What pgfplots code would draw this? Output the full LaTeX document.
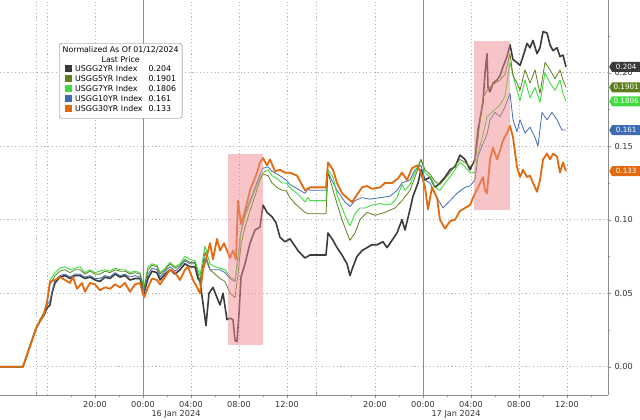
\documentclass[border=0pt]{standalone}
\usepackage{fontspec}
\setmainfont{DejaVu Sans}
\usepackage{pgfplots}
\pgfplotsset{compat=1.18}
\usetikzlibrary{shapes.symbols}

\definecolor{c2}{HTML}{3A3A3A}
\definecolor{c5}{HTML}{5E7F1E}
\definecolor{c7}{HTML}{3FDB3F}
\definecolor{c10}{HTML}{3D6DB0}
\definecolor{c30}{HTML}{E2690E}
\definecolor{pinkbox}{HTML}{F08A90}
\definecolor{gridc}{HTML}{B4B4B4}
\definecolor{axc}{HTML}{8C8C8C}

\begin{document}
\begin{tikzpicture}
\begin{axis}[
  scale only axis, width=608bp, height=395bp,
  xmin=0, xmax=608, ymin=-0.01925, ymax=0.2495,
  axis x line=bottom, axis y line=right,
  axis line style={-, draw=axc},
  clip=false,
  tick style={draw=axc},
  tick align=outside,
  major tick length=3bp, minor tick length=2bp,
  xtick={95,143,191,239,287,375,423,471,519,567},
  xticklabels={20:00,00:00,04:00,08:00,12:00,20:00,00:00,04:00,08:00,12:00},
  minor xtick={71,119,167,215,263,351,399,447,495,543,591},
  extra x ticks={36,47,316},
  extra x tick labels={},
  extra x tick style={major tick length=0pt, grid=major},
  ytick={0,0.05,0.10,0.15,0.20},
  minor ytick={0.025,0.075,0.125,0.175,0.225},
  yticklabel style={/pgf/number format/.cd, fixed, fixed zerofill, precision=2},
  /pgf/number format/assume math mode=true,
  ticklabel style={font=\fontsize{8.2}{9}\selectfont, text=black!80},
  xmajorgrids, ymajorgrids,
  major grid style={draw=gridc, dash pattern=on 1.1bp off 2.6bp, line width=0.7bp},
  every axis plot/.append style={line join=round, mark=none},
]

% 2YR
\addplot[c2, line width=1.6bp] coordinates {
(0,0)(23,0)(30,0.014)(36,0.026)(40,0.031)(44,0.035)(47,0.040)(50,0.042)(52,0.050)(55,0.057)(60,0.061)(65,0.062)(70,0.060)(75,0.062)(80,0.062)(85,0.060)(90,0.061)(95,0.059)(100,0.058)(105,0.061)(110,0.060)(115,0.063)(120,0.061)(125,0.062)(130,0.059)(135,0.060)(140,0.060)(144,0.050)(148,0.060)(152,0.065)(157,0.064)(160,0.059)(165,0.063)(170,0.066)(175,0.063)(180,0.066)(185,0.070)(190,0.068)(195,0.068)(198,0.060)(200,0.058)(203,0.043)(206,0.028)(209,0.050)(213,0.054)(217,0.047)(220,0.042)(223,0.050)(227,0.032)(230,0.033)(233,0.032)(235,0.018)(237,0.017)(239,0.036)(241,0.061)(245,0.070)(250,0.084)(255,0.093)(260,0.095)(263,0.110)(267,0.105)(272,0.102)(276,0.098)(280,0.088)(285,0.085)(290,0.087)(295,0.082)(298,0.079)(302,0.076)(305,0.074)(310,0.076)(326,0.076)(328,0.091)(333,0.086)(337,0.081)(342,0.076)(347,0.070)(350,0.062)(353,0.068)(357,0.075)(362,0.079)(367,0.081)(372,0.083)(377,0.083)(383,0.085)(387,0.081)(392,0.086)(397,0.091)(402,0.100)(405,0.093)(410,0.107)(413,0.116)(418,0.125)(421,0.134)(425,0.127)(430,0.129)(435,0.122)(440,0.125)(445,0.129)(450,0.134)(455,0.136)(460,0.144)(465,0.141)(470,0.134)(475,0.141)(478,0.161)(483,0.180)(485,0.200)(487,0.213)(488,0.190)(490,0.187)(493,0.193)(497,0.195)(500,0.198)(503,0.204)(507,0.211)(510,0.219)(513,0.209)(517,0.207)(520,0.205)(523,0.211)(527,0.220)(530,0.217)(533,0.222)(537,0.213)(540,0.217)(543,0.228)(547,0.227)(550,0.219)(553,0.215)(557,0.217)(560,0.211)(563,0.212)(566,0.204)
};

% 10YR
\addplot[c10, line width=0.8bp] coordinates {
(0,0)(23,0)(30,0.014)(36,0.026)(40,0.031)(44,0.036)(47,0.042)(50,0.045)(52,0.051)(55,0.059)(60,0.062)(65,0.063)(70,0.061)(75,0.063)(80,0.063)(85,0.061)(90,0.062)(95,0.060)(100,0.060)(105,0.062)(110,0.061)(115,0.064)(120,0.062)(125,0.063)(130,0.061)(135,0.062)(140,0.061)(144,0.051)(148,0.063)(152,0.067)(157,0.066)(160,0.061)(165,0.065)(170,0.068)(175,0.065)(180,0.068)(185,0.072)(190,0.070)(195,0.070)(200,0.058)(205,0.074)(210,0.066)(215,0.066)(220,0.066)(225,0.064)(230,0.060)(235,0.058)(238,0.075)(241,0.092)(245,0.104)(250,0.113)(255,0.122)(260,0.131)(263,0.135)(268,0.136)(272,0.133)(277,0.131)(282,0.129)(286,0.127)(290,0.124)(295,0.122)(300,0.120)(305,0.118)(308,0.121)(310,0.120)(326,0.120)(328,0.132)(337,0.120)(345,0.112)(350,0.109)(355,0.113)(362,0.115)(370,0.114)(380,0.115)(390,0.116)(397,0.120)(402,0.125)(410,0.127)(415,0.134)(421,0.137)(425,0.127)(430,0.125)(437,0.115)(443,0.108)(450,0.113)(457,0.118)(465,0.122)(470,0.123)(475,0.127)(478,0.143)(483,0.152)(487,0.158)(490,0.168)(495,0.173)(500,0.170)(505,0.177)(510,0.186)(513,0.168)(517,0.160)(520,0.168)(525,0.159)(530,0.163)(535,0.156)(538,0.150)(542,0.173)(547,0.168)(552,0.173)(557,0.168)(562,0.161)(566,0.161)
};

% 7YR
\addplot[c7, line width=0.9bp] coordinates {
(0,0)(23,0)(30,0.014)(36,0.026)(40,0.032)(44,0.037)(47,0.043)(50,0.059)(55,0.064)(60,0.067)(65,0.068)(70,0.066)(75,0.067)(80,0.068)(85,0.064)(90,0.066)(95,0.064)(100,0.065)(105,0.066)(110,0.065)(115,0.067)(120,0.066)(125,0.066)(130,0.064)(135,0.065)(140,0.064)(144,0.054)(148,0.068)(152,0.070)(157,0.069)(160,0.064)(165,0.067)(170,0.071)(175,0.068)(180,0.070)(185,0.075)(190,0.073)(195,0.072)(200,0.062)(205,0.082)(210,0.070)(215,0.068)(220,0.067)(225,0.066)(230,0.061)(235,0.059)(238,0.073)(241,0.091)(245,0.102)(250,0.111)(255,0.120)(260,0.129)(263,0.132)(268,0.134)(272,0.130)(277,0.128)(282,0.125)(286,0.125)(290,0.122)(295,0.119)(300,0.116)(305,0.112)(308,0.115)(310,0.113)(326,0.113)(328,0.134)(333,0.129)(337,0.117)(342,0.108)(347,0.100)(350,0.096)(355,0.104)(360,0.108)(365,0.108)(372,0.110)(380,0.111)(387,0.110)(392,0.111)(397,0.115)(402,0.124)(405,0.120)(410,0.124)(415,0.132)(421,0.141)(425,0.132)(430,0.129)(435,0.122)(440,0.120)(445,0.125)(450,0.129)(455,0.134)(460,0.139)(465,0.136)(470,0.132)(475,0.132)(478,0.145)(483,0.158)(487,0.170)(490,0.172)(495,0.175)(500,0.178)(505,0.184)(510,0.207)(515,0.193)(520,0.181)(525,0.195)(530,0.183)(535,0.190)(540,0.180)(545,0.200)(550,0.193)(555,0.188)(560,0.195)(563,0.186)(566,0.1806)
};

% 5YR
\addplot[c5, line width=0.8bp] coordinates {
(0,0)(23,0)(30,0.014)(36,0.026)(40,0.032)(44,0.037)(47,0.043)(50,0.056)(55,0.062)(60,0.065)(65,0.066)(70,0.064)(75,0.066)(80,0.066)(85,0.063)(90,0.065)(95,0.063)(100,0.063)(105,0.065)(110,0.064)(115,0.066)(120,0.065)(125,0.065)(130,0.063)(135,0.064)(140,0.063)(144,0.053)(148,0.066)(152,0.069)(157,0.068)(160,0.063)(165,0.066)(170,0.070)(175,0.067)(180,0.069)(185,0.073)(190,0.071)(195,0.071)(200,0.058)(205,0.078)(210,0.066)(215,0.063)(220,0.060)(225,0.058)(230,0.050)(235,0.047)(238,0.063)(241,0.083)(245,0.095)(250,0.106)(255,0.116)(260,0.127)(263,0.131)(268,0.130)(272,0.125)(277,0.122)(282,0.120)(286,0.120)(290,0.115)(295,0.111)(300,0.108)(305,0.105)(308,0.104)(310,0.104)(326,0.104)(328,0.132)(337,0.111)(342,0.100)(347,0.091)(350,0.086)(355,0.091)(360,0.100)(367,0.105)(375,0.103)(385,0.105)(395,0.108)(402,0.113)(410,0.120)(415,0.129)(421,0.141)(425,0.134)(430,0.131)(435,0.126)(440,0.124)(445,0.128)(450,0.132)(455,0.137)(460,0.141)(465,0.139)(470,0.136)(475,0.140)(478,0.155)(483,0.183)(487,0.188)(490,0.190)(495,0.193)(500,0.195)(505,0.199)(510,0.213)(513,0.198)(517,0.193)(520,0.188)(525,0.202)(530,0.193)(535,0.202)(540,0.186)(545,0.207)(550,0.202)(555,0.196)(560,0.202)(563,0.195)(566,0.1901)
};

% 30YR
\addplot[c30, line width=1.8bp] coordinates {
(0,0)(23,0)(30,0.014)(36,0.026)(40,0.031)(44,0.036)(47,0.044)(50,0.058)(55,0.059)(60,0.061)(65,0.059)(70,0.057)(73,0.061)(77,0.053)(82,0.057)(85,0.051)(90,0.057)(95,0.056)(100,0.052)(105,0.054)(110,0.053)(115,0.056)(120,0.054)(125,0.057)(130,0.051)(135,0.056)(140,0.057)(144,0.047)(148,0.054)(152,0.060)(157,0.059)(160,0.056)(165,0.061)(170,0.066)(175,0.064)(180,0.059)(185,0.066)(188,0.068)(193,0.059)(197,0.054)(200,0.050)(203,0.066)(206,0.073)(210,0.084)(213,0.073)(217,0.087)(220,0.079)(224,0.084)(227,0.079)(230,0.074)(233,0.079)(236,0.073)(238,0.113)(241,0.097)(245,0.106)(250,0.120)(253,0.125)(257,0.132)(260,0.139)(263,0.142)(267,0.137)(270,0.141)(275,0.133)(280,0.134)(285,0.132)(290,0.132)(297,0.130)(305,0.120)(310,0.122)(326,0.122)(328,0.139)(333,0.134)(337,0.125)(342,0.118)(347,0.115)(352,0.112)(357,0.117)(362,0.122)(367,0.123)(372,0.121)(380,0.122)(385,0.125)(392,0.125)(398,0.128)(402,0.132)(407,0.127)(412,0.135)(417,0.137)(421,0.132)(425,0.122)(428,0.107)(432,0.122)(437,0.115)(440,0.100)(445,0.094)(450,0.099)(455,0.100)(460,0.106)(465,0.108)(470,0.110)(475,0.118)(478,0.122)(483,0.129)(485,0.120)(487,0.118)(490,0.141)(493,0.149)(497,0.141)(500,0.147)(503,0.154)(507,0.159)(510,0.164)(513,0.156)(517,0.136)(520,0.129)(523,0.134)(527,0.129)(530,0.130)(533,0.125)(537,0.119)(540,0.127)(543,0.141)(547,0.145)(550,0.141)(553,0.145)(557,0.143)(560,0.132)(563,0.139)(566,0.133)
};

% corner of the plot area, used for the page box below
\coordinate (BL) at (axis cs:0,-0.01925);

% midnight lines
\draw[axc, line width=0.6bp] (axis cs:143,-0.01925) -- (axis cs:143,0.2495);
\draw[axc, line width=0.6bp] (axis cs:423,-0.01925) -- (axis cs:423,0.2495);
% session separators below the axis
\draw[axc, line width=0.6bp] (axis cs:36,-0.01925) -- ++(0,-25bp);
\draw[axc, line width=0.6bp] (axis cs:316,-0.01925) -- ++(0,-25bp);

% highlighted windows
\fill[pinkbox, opacity=0.5] (axis cs:228,0.0148) rectangle (axis cs:263,0.1446);
\fill[pinkbox, opacity=0.5] (axis cs:474,0.1066) rectangle (axis cs:510,0.2216);

% date labels
\node[font=\fontsize{8.2}{9}\selectfont, text=black!80] at ([yshift=-19.5bp]axis cs:176,-0.01925) {16 Jan 2024};
\node[font=\fontsize{8.2}{9}\selectfont, text=black!80] at ([yshift=-19.5bp]axis cs:456,-0.01925) {17 Jan 2024};

% last value tags
\tikzset{tag/.style={signal, signal to=west, signal pointer angle=120, text=white,
  font=\fontsize{7.2}{8}\selectfont, inner sep=1.2bp, minimum height=10bp, minimum width=31bp, anchor=west}}
\node[tag, fill=c2] at (axis cs:609,0.204) {0.204};
\node[tag, fill=c5] at (axis cs:609,0.1901) {0.1901};
\node[tag, fill=c7] at (axis cs:609,0.1806) {0.1806};
\node[tag, fill=c10] at (axis cs:609,0.161) {0.161};
\node[tag, fill=c30] at (axis cs:609,0.133) {0.133};

% legend box
\node[draw=black!55, rounded corners=2.5bp, fill=white, inner xsep=3.5bp, inner ysep=3.5bp,
  anchor=north west, align=center, font=\fontsize{7.9}{10}\selectfont]
  at (axis cs:59,0.2202) {%
  Normalized As Of 01/12/2024\\
  Last Price\\[1bp]
  \begin{tabular}{@{}l@{\hspace{6bp}}l@{}}
  {\color{c2}\rule{7bp}{7bp}}\hspace{3bp}USGG2YR Index & 0.204\\
  {\color{c5}\rule{7bp}{7bp}}\hspace{3bp}USGG5YR Index & 0.1901\\
  {\color{c7}\rule{7bp}{7bp}}\hspace{3bp}USGG7YR Index & 0.1806\\
  {\color{c10}\rule{7bp}{7bp}}\hspace{3bp}USGG10YR Index & 0.161\\
  {\color{c30}\rule{7bp}{7bp}}\hspace{3bp}USGG30YR Index & 0.133
  \end{tabular}};
\end{axis}
\pgfresetboundingbox
\path[use as bounding box] ([yshift=-25bp]BL) rectangle ([xshift=640bp,yshift=395bp]BL);
\end{tikzpicture}
\end{document}
